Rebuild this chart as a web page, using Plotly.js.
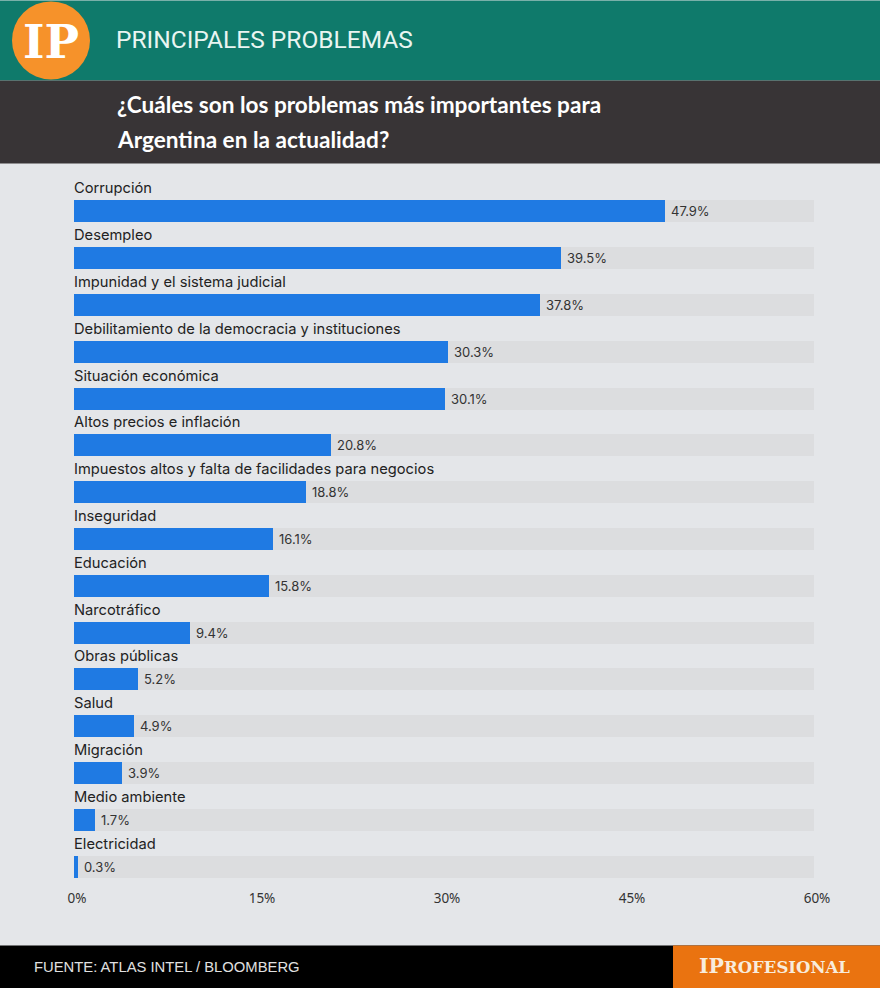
<!DOCTYPE html>
<html><head><meta charset="utf-8">
<script src="https://cdn.plot.ly/plotly-3.0.1.min.js"></script>
<style>html,body{margin:0;padding:0;background:#e4e6e9;}#chart{width:880px;height:988px;}</style>
</head><body><div id="chart"></div>
<script>
const categories = ["Corrupción","Desempleo","Impunidad y el sistema judicial","Debilitamiento de la democracia y instituciones","Situación económica","Altos precios e inflación","Impuestos altos y falta de facilidades para negocios","Inseguridad","Educación","Narcotráfico","Obras públicas","Salud","Migración","Medio ambiente","Electricidad"];
const values = [47.9,39.5,37.8,30.3,30.1,20.8,18.8,16.1,15.8,9.4,5.2,4.9,3.9,1.7,0.3];
const axisMax = 60;
const tickVals = [0,15,30,45,60];
const tickText = ["0%","15%","30%","45%","60%"];
const titleText = "PRINCIPALES PROBLEMAS";
const subtitleLines = ["¿Cuáles son los problemas más importantes para","Argentina en la actualidad?"];
const sourceText = "FUENTE: ATLAS INTEL / BLOOMBERG";

const W=880,H=988, L=74, R=66, T=187.6, B=98.4;
const pw=W-L-R, ph=H-T-B;
const px=x=>(x-L)/pw, py=y=>(H-B-y)/ph;

const track = {type:'bar',orientation:'h',y:categories,x:categories.map(()=>axisMax),
  marker:{color:'#dcdddf'},width:0.47,hoverinfo:'skip',showlegend:false};
const bars = {type:'bar',orientation:'h',y:categories,x:values,
  marker:{color:'#1f7ae3'},width:0.47,showlegend:false,hoverinfo:'skip'};

const shapes=[
 {type:'rect',xref:'paper',yref:'paper',x0:px(0),x1:px(W),y0:py(80),y1:py(0),fillcolor:'#0f7a6b',line:{width:0},layer:'above'},
 {type:'rect',xref:'paper',yref:'paper',x0:px(0),x1:px(W),y0:py(163),y1:py(80),fillcolor:'#383436',line:{width:0},layer:'above'},
 {type:'rect',xref:'paper',yref:'paper',x0:px(0),x1:px(W),y0:py(988),y1:py(945),fillcolor:'#000000',line:{width:0},layer:'above'},
 {type:'rect',xref:'paper',yref:'paper',x0:px(673),x1:px(W),y0:py(988),y1:py(945),fillcolor:'#ea7310',line:{width:0},layer:'above'},
 {type:'circle',xref:'paper',yref:'paper',x0:px(12),x1:px(90),y0:py(79),y1:py(1),fillcolor:'#f6922a',line:{width:0},layer:'above'}
];

const annotations=[
 {xref:'paper',yref:'paper',x:px(51),y:py(42),text:'<b>IP</b>',showarrow:false,xanchor:'center',yanchor:'middle',
  font:{family:'DejaVu Serif, Liberation Serif, serif',size:46,color:'#ffffff'}},
 {xref:'paper',yref:'paper',x:px(114),y:py(39),text:titleText,showarrow:false,xanchor:'left',yanchor:'middle',
  font:{family:'Roboto, sans-serif',size:24.5,color:'#e9f5f1'}},
 {xref:'paper',yref:'paper',x:px(115),y:py(104),text:'<b>'+subtitleLines[0]+'</b>',showarrow:false,xanchor:'left',yanchor:'middle',
  font:{family:'Lato, sans-serif',size:22.6,color:'#ffffff'}},
 {xref:'paper',yref:'paper',x:px(115),y:py(139),text:'<b>'+subtitleLines[1]+'</b>',showarrow:false,xanchor:'left',yanchor:'middle',
  font:{family:'Lato, sans-serif',size:22.6,color:'#ffffff'}},
 {xref:'paper',yref:'paper',x:px(32),y:py(967),text:sourceText,showarrow:false,xanchor:'left',yanchor:'middle',
  font:{family:'Liberation Sans, Arial, sans-serif',size:14.8,color:'#e0e0e0'}},
 {xref:'paper',yref:'paper',x:px(774),y:py(966),text:'<b>IP<span style="font-size:16.5px">ROFESIONAL</span></b>',showarrow:false,xanchor:'center',yanchor:'middle',
  font:{family:'DejaVu Serif, Liberation Serif, serif',size:20.5,color:'#f8ecdc'}}
];
categories.forEach(c=>annotations.push({xref:'x',yref:'y',x:0,y:c,yshift:23,xshift:-2,text:c,showarrow:false,xanchor:'left',yanchor:'middle',
  font:{family:'Inter, Lato, sans-serif',size:14.7,color:'#222'}}));
categories.forEach((c,i)=>annotations.push({xref:'x',yref:'y',x:values[i],y:c,xshift:4,text:values[i].toFixed(1)+'%',showarrow:false,xanchor:'left',yanchor:'middle',
  font:{family:'Inter, Lato, sans-serif',size:13,color:'#333'}}));

const layout={width:W,height:H,margin:{l:L,r:R,t:T,b:B,pad:0},
 paper_bgcolor:'#e4e6e9',plot_bgcolor:'#e4e6e9',barmode:'overlay',bargap:0,
 xaxis:{range:[0,axisMax],tickvals:tickVals,ticktext:tickText,showgrid:false,zeroline:false,showline:false,ticks:'',
   tickfont:{family:'Noto Sans, sans-serif',size:13.5,color:'#333'},fixedrange:true,ticklabelstandoff:-2,ticklabelshift:3},
 yaxis:{type:'category',categoryorder:'array',categoryarray:categories,range:[14.5,-0.5],showticklabels:false,showgrid:false,zeroline:false,ticks:'',fixedrange:true},
 shapes:shapes,annotations:annotations,font:{family:'Inter, sans-serif'}};
Plotly.newPlot('chart',[track,bars],layout,{displayModeBar:false,staticPlot:true});
</script></body></html>
